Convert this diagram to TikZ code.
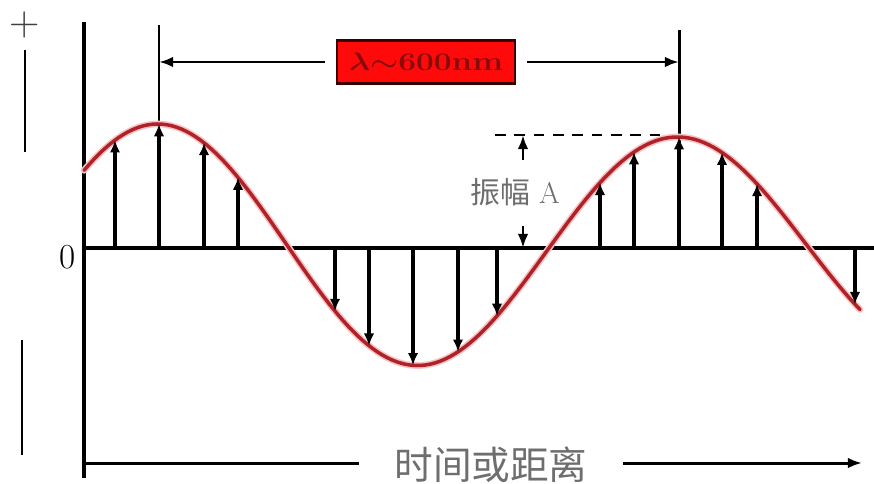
\documentclass[tikz,border=0pt]{standalone}
\usepackage{fontspec}
\usepackage{xcolor}
\usepackage{tikz}
\usetikzlibrary{arrows.meta}
\newfontfamily\cjk{Noto Sans CJK SC}
\definecolor{wavered}{HTML}{B02228}
\definecolor{waveglow}{HTML}{F6C4C6}
\definecolor{boxred}{HTML}{FF0A0A}
\definecolor{boxdark}{HTML}{3A0000}
\definecolor{boxtext}{HTML}{8A0A0A}
\definecolor{labelgray}{HTML}{6E6E6E}

\tikzset{
    axisline/.style={line width=2pt},
    stem/.style={line width=1.9pt, -{Latex[length=7pt,width=6pt]}},
    dimline/.style={line width=1.6pt, -{Latex[length=8pt,width=6pt]}},
    graytext/.style={text=labelgray, inner sep=0pt},
    declare function={
        amp(\x) = 124-0.025*(\x-159);
        wave(\x) = 248-amp(\x)*sin(0.6923077*(\x-29));
    }
}

\begin{document}
\begin{tikzpicture}[x=0.02cm, y=-0.02cm]
    \useasboundingbox (0,0) rectangle (874,483);

    % axes
    \coordinate (ytop) at (84,22);
    \coordinate (ybot) at (84,478);
    \coordinate (origin) at (84,248);
    \coordinate (xend) at (874,248);
    \draw[axisline] (ytop) -- (ybot);
    \draw[line width=1.8pt] (origin) -- (xend);
    \node[inner sep=0pt] (zero) at (68,257) {\fontsize{20}{20}\selectfont 0};

    % sign marks on the left
    \node[inner sep=0pt, text=black!75] (plus) at (25,25) {\fontsize{24}{24}\selectfont +};
    \coordinate (ptop) at (25,50);
    \coordinate (pbot) at (25,152);
    \coordinate (mtop) at (22,340);
    \coordinate (mbot) at (22,455);
    \draw[line width=1.5pt] (ptop) -- (pbot);
    \draw[line width=1.5pt] (mtop) -- (mbot);

    % wavelength
    \coordinate (crestA) at (159,25);
    \coordinate (crestB) at (679,30);
    \coordinate (lamL) at (159,62);
    \coordinate (lamR) at (679,62);
    \draw[line width=1.7pt] (crestA) -- (159,248);
    \draw[line width=1.7pt] (crestB) -- (679,248);
    \node[fill=boxred, draw=boxdark, line width=1.4pt, minimum width=3.56cm,
          minimum height=0.86cm, outer sep=7pt] (lam) at (426,62)
      {\color{boxtext}\scalebox{1.25}[1]{\fontsize{15}{15}\selectfont\bfseries\boldmath$\lambda{\sim}600$nm}};
    \draw[dimline] (lam.west) -- (lamL);
    \draw[dimline] (lam.east) -- (lamR);

    % amplitude
    \coordinate (ampA) at (523,160);
    \coordinate (ampB) at (523,226);
    \draw[line width=1.5pt, dash pattern=on 6pt off 5pt] (495,135) -- (679,135);
    \draw[dimline] (ampA) -- (523,135);
    \draw[dimline] (ampB) -- (523,248);
    \node[graytext] (amplabel) at (515,192)
      {\fontsize{17}{17}\selectfont{\cjk 振幅} A};

    % wave and its displacements
    \draw[waveglow, line width=3.8pt, line cap=round]
      plot[domain=84:860, samples=160] (\x,{wave(\x)});
    \draw[wavered, line width=2pt, line cap=round]
      plot[domain=84:860, samples=160] (\x,{wave(\x)});
    \foreach \x in {115,159,204,238,335,369,413,458,497,600,634,679,722,757,855}
      \draw[stem] (\x,248) -- (\x,{wave(\x)});

    % time axis
    \node[graytext, inner xsep=20pt] (tlabel) at (491,465)
      {\fontsize{22}{22}\selectfont\cjk 时间或距离};
    \coordinate (tstart) at (84,463);
    \coordinate (tend) at (862,463);
    \draw[line width=1.7pt] (tstart) -- (tlabel.west |- tstart);
    \draw[dimline, line width=1.7pt] (tlabel.east |- tend) -- (tend);
\end{tikzpicture}
\end{document}
